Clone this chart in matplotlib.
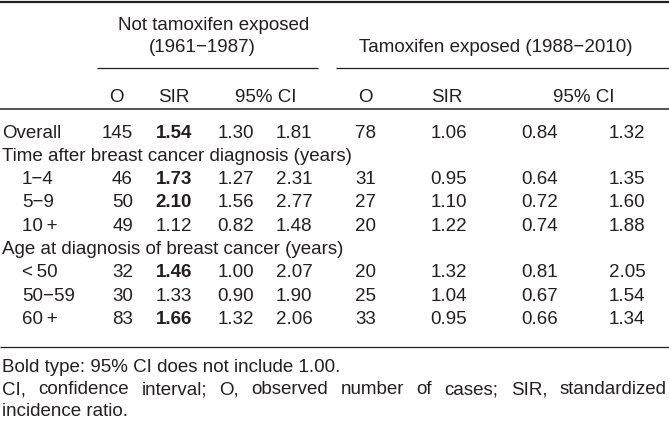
import matplotlib
matplotlib.use("Agg")
import matplotlib.pyplot as plt

plt.rcParams['font.family'] = ['Liberation Sans', 'DejaVu Sans']

# ---- data ----
row_labels = ["Overall", "Time after breast cancer diagnosis (years)", "1\u22124", "5\u22129", "10\u2009+",
              "Age at diagnosis of breast cancer (years)", "<\u200950", "50\u221259", "60\u2009+"]
row_indent = [False, False, True, True, True, False, True, True, True]
is_section = [False, True, False, False, False, True, False, False, False]
not_O = [145, None, 46, 50, 49, None, 32, 30, 83]
not_SIR = ["1.54", None, "1.73", "2.10", "1.12", None, "1.46", "1.33", "1.66"]
not_lo = ["1.30", None, "1.27", "1.56", "0.82", None, "1.00", "0.90", "1.32"]
not_hi = ["1.81", None, "2.31", "2.77", "1.48", None, "2.07", "1.90", "2.06"]
not_bold = [True, False, True, True, False, False, True, False, True]
tam_O = [78, None, 31, 27, 20, None, 20, 25, 33]
tam_SIR = ["1.06", None, "0.95", "1.10", "1.22", None, "1.32", "1.04", "0.95"]
tam_lo = ["0.84", None, "0.64", "0.72", "0.74", None, "0.81", "0.67", "0.66"]
tam_hi = ["1.32", None, "1.35", "1.60", "1.88", None, "2.05", "1.54", "1.34"]
group1 = ["Not tamoxifen exposed", "(1961\u22121987)"]
group2 = "Tamoxifen exposed (1988\u22122010)"
col_heads = ["O", "SIR", "95% CI"]
foot1 = "Bold type: 95% CI does not include 1.00."
foot2 = "CI, confidence interval; O, observed number of cases; SIR, standardized"
foot3 = "incidence ratio."

W, H = 669, 421
fig = plt.figure(figsize=(W / 100, H / 100), dpi=100)
ax = fig.add_axes([0, 0, 1, 1])
ax.set_xlim(0, W)
ax.set_ylim(H, 0)
ax.axis('off')

C = '#231f20'
FS = 13.5

def t(x, y, s, ha='center', bold=False):
    return ax.text(x, y, s, ha=ha, va='center', fontsize=FS, color=C,
                   fontweight='bold' if bold else 'normal')

# rules
ax.plot([0, W], [1.5, 1.5], color=C, lw=1.6, solid_capstyle='butt')
ax.plot([97, 318], [68, 68], color=C, lw=0.9, solid_capstyle='butt')
ax.plot([336, W], [68, 68], color=C, lw=0.9, solid_capstyle='butt')
ax.plot([0, W], [108.5, 108.5], color=C, lw=1.1, solid_capstyle='butt')
ax.plot([0, W], [346.5, 346.5], color=C, lw=0.9, solid_capstyle='butt')

# headers
t(214, 26, group1[0])
t(202, 48, group1[1])
t(496, 48, group2)
t(116, 97, col_heads[0])
t(174, 97, col_heads[1])
t(266, 97, col_heads[2])
t(365, 97, col_heads[0])
t(447, 97, col_heads[1])
t(584, 97, col_heads[2])

# body
y0, dy = 133, 23.3
for i, lab in enumerate(row_labels):
    y = y0 + i * dy
    x = 22 if row_indent[i] else 2
    t(x, y, lab, ha='left')
    if is_section[i]:
        continue
    t(133, y, str(not_O[i]), ha='right')
    t(174, y, not_SIR[i], bold=not_bold[i])
    t(236, y, not_lo[i])
    t(294, y, not_hi[i])
    t(366, y, str(tam_O[i]))
    t(449, y, tam_SIR[i])
    t(540, y, tam_lo[i])
    t(627, y, tam_hi[i])

# footer
t(2, 367, foot1, ha='left')
t(2, 412, foot3, ha='left')

# justified line
fig.canvas.draw()
r = fig.canvas.get_renderer()
words = foot2.split(' ')
arts = [t(0, 390, w, ha='left') for w in words]
fig.canvas.draw()
inv = ax.transData.inverted()
widths = []
for a in arts:
    bb = a.get_window_extent(renderer=r)
    p0 = inv.transform((bb.x0, bb.y0))
    p1 = inv.transform((bb.x1, bb.y0))
    widths.append(p1[0] - p0[0])
left, right = 2, 667
gap = (right - left - sum(widths)) / (len(words) - 1)
x = left
for a, w in zip(arts, widths):
    a.set_x(x)
    x += w + gap

fig.savefig('out.png', dpi=100, facecolor='white')
